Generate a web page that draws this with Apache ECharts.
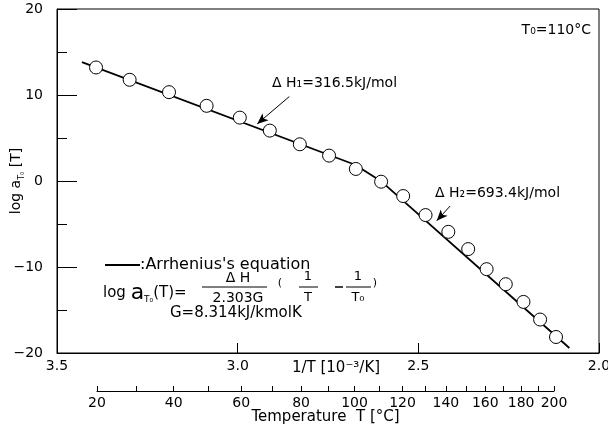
<!DOCTYPE html>
<html><head><meta charset="utf-8">
<script src="https://cdn.jsdelivr.net/npm/echarts@6/dist/echarts.min.js"></script>
<style>html,body{margin:0;padding:0;background:#fff}#c{width:608px;height:430px}</style>
</head><body><div id="c"></div>
<script>
// Measured data: x = 1/T [10^-3/K], y = log aT0
const invTemp = [3.392, 3.299, 3.190, 3.086, 2.994, 2.911, 2.828, 2.747, 2.673, 2.603, 2.542, 2.480, 2.417, 2.362, 2.311, 2.258, 2.209, 2.163, 2.119];
const logAT   = [13.20, 11.77, 10.33, 8.74, 7.37, 5.86, 4.27, 2.95, 1.40, -0.08, -1.75, -3.96, -5.91, -7.92, -10.25, -12.00, -14.06, -16.11, -18.14];
// Arrhenius fit line (two regimes)
const fitX = [3.431, 2.675, 2.601, 2.082];
const fitY = [13.83, 1.89, -0.10, -19.42];
// Annotation arrows (data coords): [fromX, fromY, toX, toY]
const arrow1 = [2.857, 9.82, 2.946, 6.64];
const arrow2 = [2.412, -2.91, 2.449, -4.62];
// Temperature axis ticks (°C)
const tempTicks = [20, 30, 40, 50, 60, 70, 80, 90, 100, 110, 120, 130, 140, 150, 160, 170, 180, 190, 200];
const tempLabels = [20, 40, 60, 80, 100, 120, 140, 160, 180, 200];
const xRange = [2.0, 3.5];
const yRange = [-20, 20];

const toInv = t => 1000 / (t + 273.15);
const F = "'DejaVu Sans', 'Noto Sans CJK JP', sans-serif";
const chart = echarts.init(document.getElementById('c'), null, {renderer: 'canvas'});

const txt = (x, y, text, size, align, extra) => ({
  type: 'text', x: x, y: y, silent: true,
  style: Object.assign({text: text, fill: '#000', font: size + 'px ' + F, textAlign: align || 'left', textVerticalAlign: 'middle'}, (extra || {}))
});
const seg = (x1, y1, x2, y2, w) => ({type: 'line', silent: true, shape: {x1, y1, x2, y2}, style: {stroke: '#000', lineWidth: w || 1}});

chart.setOption({
  animation: false,
  backgroundColor: '#fff',
  grid: [
    {left: 57, right: 9, top: 9, bottom: 77, show: true, borderColor: '#000', borderWidth: 1, backgroundColor: 'transparent', containLabel: false, outerBoundsMode: 'none'},
    {left: 97, right: 54, top: 370, bottom: 39, containLabel: false, outerBoundsMode: 'none'}
  ],
  xAxis: [{
    type: 'value', gridIndex: 0, min: xRange[0], max: xRange[1], interval: 0.5, inverse: true,
    axisLine: {onZero: false, lineStyle: {color: '#000', width: 1}},
    axisTick: {inside: true, length: 10, lineStyle: {color: '#000'}},
    axisLabel: {formatter: v => v.toFixed(1), fontSize: 14, color: '#000', margin: 6, fontFamily: F},
    splitLine: {show: false},
    name: '1/T [10⁻³/K]', nameLocation: 'middle', nameGap: 8, nameMoveOverlap: false,
    nameTextStyle: {fontSize: 15, color: '#000', fontFamily: F, padding: [0, 0, 0, 16]}
  }, {
    type: 'value', gridIndex: 1, min: toInv(200), max: toInv(20), inverse: true,
    axisLine: {onZero: false, lineStyle: {color: '#000', width: 1}},
    axisTick: {inside: true, length: 5, lineStyle: {color: '#000'}, customValues: tempTicks.map(toInv)},
    axisLabel: {customValues: tempLabels.map(toInv), formatter: v => String(Math.round(1000 / v - 273.15)),
      fontSize: 14, color: '#000', margin: 5, fontFamily: F},
    splitLine: {show: false},
    name: 'Temperature  T [°C]', nameLocation: 'middle', nameGap: 19, nameMoveOverlap: false,
    nameTextStyle: {fontSize: 15, color: '#000', fontFamily: F}
  }],
  yAxis: [{
    type: 'value', gridIndex: 0, min: yRange[0], max: yRange[1], interval: 10,
    axisLine: {onZero: false, lineStyle: {color: '#000', width: 1}},
    axisTick: {inside: true, length: 20, lineStyle: {color: '#000'}},
    minorTick: {show: true, splitNumber: 2, length: 10, lineStyle: {color: '#000'}},
    axisLabel: {fontSize: 14, color: '#000', margin: 14, fontFamily: F, formatter: v => String(v).replace('-', '−')},
    splitLine: {show: false}, minorSplitLine: {show: false},
    name: '{n|log a}{s|T₀}{n| [T]}', nameLocation: 'middle', nameGap: 31, nameRotate: 90, nameMoveOverlap: false,
    nameTextStyle: {color: '#000', fontFamily: F, fontSize: 14,
      rich: {n: {fontSize: 14, fontFamily: F, color: '#000', lineHeight: 20},
             s: {fontSize: 8, fontFamily: F, color: '#000', lineHeight: 8, verticalAlign: 'bottom'}}}
  }, {
    type: 'value', gridIndex: 1, min: 0, max: 1, show: false
  }],
  series: [{
    type: 'line', name: "Arrhenius's equation", xAxisIndex: 0, yAxisIndex: 0,
    data: fitX.map((x, i) => [x, fitY[i]]),
    symbol: 'none', lineStyle: {color: '#000', width: 1.8}, z: 2, silent: true,
    markLine: {
      silent: true, symbol: ['none', 'arrow'], symbolSize: [7, 11],
      label: {show: false}, lineStyle: {color: '#000', width: 1, type: 'solid'},
      emphasis: {disabled: true},
      data: [
        [{coord: [arrow1[0], arrow1[1]]}, {coord: [arrow1[2], arrow1[3]]}],
        [{coord: [arrow2[0], arrow2[1]]}, {coord: [arrow2[2], arrow2[3]]}]
      ]
    }
  }, {
    type: 'scatter', name: 'measured', xAxisIndex: 0, yAxisIndex: 0,
    data: invTemp.map((x, i) => [x, logAT[i]]),
    symbol: 'circle', symbolSize: 13,
    itemStyle: {color: '#fff', borderColor: '#000', borderWidth: 1, opacity: 1}, z: 3, silent: true
  }],
  graphic: [
    txt(591, 30, 'T₀=110°C', 14, 'right'),
    txt(272, 83, 'Δ H₁=316.5kJ/mol', 14, 'left'),
    txt(435, 193, 'Δ H₂=693.4kJ/mol', 14, 'left'),
    seg(105, 265, 140, 265, 2),
    txt(140, 265, ":Arrhenius's equation", 16, 'left'),
    txt(103, 293, '{n|log }{a|a}{s|T₀}{n|(T)=}', 15, 'left', {
      rich: {n: {fontSize: 15, fontFamily: F, fill: '#000', lineHeight: 22},
             a: {fontSize: 22, fontFamily: F, fill: '#000', lineHeight: 22},
             s: {fontSize: 9, fontFamily: F, fill: '#000', lineHeight: 10, verticalAlign: 'bottom'}}
    }),
    txt(238, 278, 'Δ H', 14, 'center'),
    seg(202, 287, 267, 287, 1),
    txt(238, 298, '2.303G', 14, 'center'),
    txt(280, 283, '(', 11, 'center'),
    txt(308, 277, '1', 13, 'center'),
    seg(299, 287, 318, 287, 1),
    txt(308, 298, 'T', 13, 'center'),
    seg(335, 287, 343, 287, 1.5),
    txt(358, 277, '1', 13, 'center'),
    seg(346, 287, 371, 287, 1),
    txt(358, 298, 'T₀', 13, 'center'),
    txt(375, 283, ')', 11, 'center'),
    txt(170, 313, 'G=8.314kJ/kmolK', 15, 'left')
  ]
});
</script>
</body></html>
